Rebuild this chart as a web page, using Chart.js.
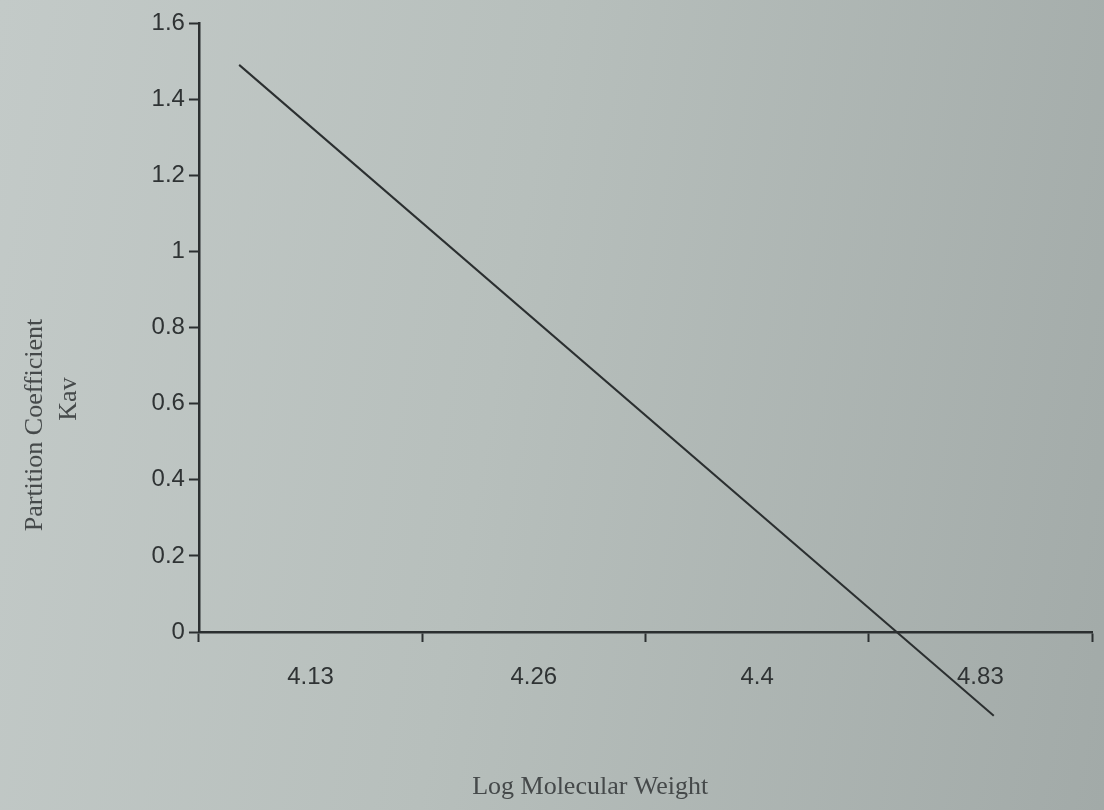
<!DOCTYPE html>
<html>
<head>
<meta charset="utf-8">
<script src="https://cdn.jsdelivr.net/npm/chart.js@4.4.1/dist/chart.umd.min.js"></script>
<style>
  html, body { margin: 0; padding: 0; }
  body {
    width: 1104px; height: 810px; overflow: hidden;
    background: linear-gradient(100deg, #c3cac8 0%, #b7bfbc 45%, #a2aaa8 100%);
  }
  #wrap { position: relative; width: 1104px; height: 810px; }
</style>
</head>
<body>
<div id="wrap"><canvas id="kav"></canvas></div>
<script>
// x categories (log molecular weight) and y range
const categories = ['4.13', '4.26', '4.4', '4.83'];
const yMin = 0;
const yMax = 1.6;
const yStep = 0.2;

// calibration line: positions in category units (0 = 4.13 ... 3 = 4.83)
const lineX = [-0.32, 3.06];
const lineY = [1.49, -0.22];

const ink = '#2b2f30';
const textCol = '#2f3334';
const titleCol = '#45494a';

window.onload = function () {
    const ctx = document.getElementById('kav');

    new Chart(ctx, {
        type: 'line',
        data: {
            labels: categories,
            datasets: [{
                data: lineX.map((x, i) => ({ x: x, y: lineY[i] })),
                xAxisID: 'xl',
                borderColor: ink,
                borderWidth: 2,
                pointRadius: 0,
                tension: 0,
                clip: false
            }]
        },
        options: {
            responsive: true,
            maintainAspectRatio: false,
            animation: false,
            layout: { padding: { top: 23, right: 12, bottom: 7, left: 18 } },
            plugins: {
                legend: { display: false },
                tooltip: { enabled: false }
            },
            scales: {
                x: {
                    type: 'category',
                    offset: true,
                    grid: {
                        offset: true,
                        drawOnChartArea: false,
                        drawTicks: true,
                        tickLength: 10,
                        tickWidth: 2,
                        color: ink
                    },
                    border: { display: true, color: ink, width: 2.5 },
                    ticks: {
                        color: textCol,
                        padding: 21,
                        font: { family: 'Liberation Sans', size: 24 }
                    },
                    title: {
                        display: true,
                        // trailing spaces nudge the centred title left, as in the print
                        text: 'Log Molecular Weight' + ' '.repeat(17),
                        color: titleCol,
                        padding: { top: 59, bottom: 0 },
                        font: { family: 'Liberation Serif', size: 26 }
                    }
                },
                xl: {
                    type: 'linear',
                    display: false,
                    min: -0.5,
                    max: categories.length - 0.5
                },
                y: {
                    min: yMin,
                    max: yMax,
                    ticks: {
                        stepSize: yStep,
                        color: textCol,
                        padding: 4,
                        font: { family: 'Liberation Sans', size: 24 },
                        callback: v => String(Math.round(v * 10) / 10)
                    },
                    grid: {
                        drawOnChartArea: false,
                        drawTicks: true,
                        tickLength: 10,
                        tickWidth: 2,
                        color: ink
                    },
                    border: { display: true, color: ink, width: 2.5 },
                    title: {
                        display: true,
                        text: ['Partition Coefficient' + ' '.repeat(30), 'Kav' + ' '.repeat(22)],
                        color: titleCol,
                        padding: { top: 0, bottom: 62 },
                        font: { family: 'Liberation Serif', size: 26, lineHeight: 1.3 }
                    }
                }
            }
        }
    });
};
</script>
</body>
</html>
